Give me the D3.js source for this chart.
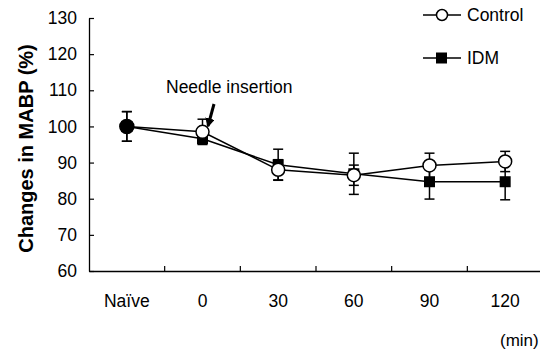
<!DOCTYPE html>
<html>
<head>
<meta charset="utf-8">
<script src="https://cdn.jsdelivr.net/npm/d3@7"></script>
<style>
  body { margin: 0; background: #fff; }
  svg { display: block; font-family: "Liberation Sans", Arial, sans-serif; }
</style>
</head>
<body>
<div id="chart"></div>
<script>
// categories and values
const categories = ['Naïve', '0', '30', '60', '90', '120'];
const controlMean = [100, 98.5, 88.0, 86.5, 89.2, 90.3];
const controlErr = [4.1, 3.5, 2.8, 2.8, 3.4, 2.8];
const idmMean = [100, 96.6, 89.4, 86.9, 84.7, 84.7];
const idmErr = [4.1, 1.2, 4.3, 5.7, 4.8, 5.0];
const yTicks = [60, 70, 80, 90, 100, 110, 120, 130];

const width = 540, height = 351;
const x0 = 89, x1 = 543, yTop = 18, yBot = 271;
const fs = '17.5px';

const svg = d3.select('#chart').append('svg')
    .attr('width', width)
    .attr('height', height);

const xScale = d3.scaleBand().domain(categories).range([x0, x1]);
const yScale = d3.scaleLinear().domain([60, 130]).range([yBot, yTop]);

// y axis, ticks pointing in
svg.append('g')
    .attr('transform', 'translate(' + x0 + ',0)')
    .call(d3.axisLeft(yScale).tickValues(yTicks).tickSize(-5).tickPadding(12).tickSizeOuter(0))
    .call(g => g.select('.domain').attr('stroke-width', 1.3))
    .call(g => g.selectAll('.tick line').attr('stroke-width', 1.2))
    .call(g => g.selectAll('text').style('font-size', fs).attr('fill', '#000'));

// x axis line and category labels
svg.append('g')
    .attr('transform', 'translate(0,' + yBot + ')')
    .call(d3.axisBottom(xScale).tickSize(0).tickPadding(24))
    .call(g => g.select('.domain').attr('stroke-width', 1.3))
    .call(g => g.selectAll('text').style('font-size', fs).attr('fill', '#000'));

// boundary ticks between the categories
svg.append('g').selectAll('line')
    .data(categories.slice(1))
    .enter().append('line')
    .attr('x1', d => xScale(d))
    .attr('x2', d => xScale(d))
    .attr('y1', yBot)
    .attr('y2', yBot - 5)
    .attr('stroke', '#000')
    .attr('stroke-width', 1.2);

// axis titles
svg.append('text')
    .attr('transform', 'translate(33,148.5) rotate(-90)')
    .attr('text-anchor', 'middle')
    .style('font-size', '20px')
    .style('font-weight', 'bold')
    .text('Changes in MABP (%)');

svg.append('text')
    .attr('x', 500)
    .attr('y', 346)
    .style('font-size', '17px')
    .text('(min)');

const cx = d => xScale(d) + xScale.bandwidth() / 2;

const series = [
  { name: 'IDM', mean: idmMean, err: idmErr },
  { name: 'Control', mean: controlMean, err: controlErr }
];

const line = d3.line()
    .x(d => cx(d.cat))
    .y(d => yScale(d.v));

series.forEach(s => {
  const pts = categories.map((c, i) => ({ cat: c, v: s.mean[i], e: s.err[i] }));
  s.pts = pts;
  svg.append('path')
      .datum(pts)
      .attr('fill', 'none')
      .attr('stroke', '#000')
      .attr('stroke-width', 1.5)
      .attr('d', line);

  const eb = svg.append('g').selectAll('g')
      .data(pts)
      .enter().append('g');
  eb.append('line')
      .attr('x1', d => cx(d.cat)).attr('x2', d => cx(d.cat))
      .attr('y1', d => yScale(d.v - d.e)).attr('y2', d => yScale(d.v + d.e))
      .attr('stroke', '#000').attr('stroke-width', 1.5);
  [1, -1].forEach(sign => {
    eb.append('line')
        .attr('x1', d => cx(d.cat) - 5).attr('x2', d => cx(d.cat) + 5)
        .attr('y1', d => yScale(d.v + sign * d.e)).attr('y2', d => yScale(d.v + sign * d.e))
        .attr('stroke', '#000').attr('stroke-width', 1.5);
  });
});

// IDM squares
svg.append('g').selectAll('rect')
    .data(series[0].pts)
    .enter().append('rect')
    .attr('x', d => cx(d.cat) - 5.5)
    .attr('y', d => yScale(d.v) - 5.5)
    .attr('width', 11)
    .attr('height', 11)
    .attr('fill', '#000');

// Control circles (filled where both groups coincide)
svg.append('g').selectAll('circle')
    .data(series[1].pts)
    .enter().append('circle')
    .attr('cx', d => cx(d.cat))
    .attr('cy', d => yScale(d.v))
    .attr('r', (d, i) => d.v === idmMean[i] ? 7 : 6.5)
    .attr('fill', (d, i) => d.v === idmMean[i] ? '#000' : '#fff')
    .attr('stroke', '#000')
    .attr('stroke-width', 1.5);

// annotation
svg.append('text')
    .attr('x', 166)
    .attr('y', 93)
    .style('font-size', fs)
    .text('Needle insertion');

svg.append('defs').append('marker')
    .attr('id', 'head')
    .attr('viewBox', '0 0 10 10')
    .attr('refX', 8).attr('refY', 5)
    .attr('markerWidth', 3.2).attr('markerHeight', 3.2)
    .attr('orient', 'auto')
    .append('path')
    .attr('d', 'M0,0 L10,5 L0,10 z')
    .attr('fill', '#000');

svg.append('line')
    .attr('x1', 214).attr('y1', 104)
    .attr('x2', 208).attr('y2', 126)
    .attr('stroke', '#000')
    .attr('stroke-width', 3)
    .attr('marker-end', 'url(#head)');

// legend
const legend = svg.append('g');
const legendItems = [
  { name: 'Control', y: 15 },
  { name: 'IDM', y: 58 }
];
legendItems.forEach(it => {
  legend.append('line')
      .attr('x1', 423).attr('x2', 461)
      .attr('y1', it.y).attr('y2', it.y)
      .attr('stroke', '#000').attr('stroke-width', 1.5);
  if (it.name === 'Control') {
    legend.append('circle')
        .attr('cx', 442).attr('cy', it.y).attr('r', 5.5)
        .attr('fill', '#fff').attr('stroke', '#000').attr('stroke-width', 1.5);
  } else {
    legend.append('rect')
        .attr('x', 436).attr('y', it.y - 5.5)
        .attr('width', 11).attr('height', 11)
        .attr('fill', '#000');
  }
  legend.append('text')
      .attr('x', 467).attr('y', it.y)
      .attr('dy', '0.35em')
      .style('font-size', fs)
      .text(it.name);
});
</script>
</body>
</html>
